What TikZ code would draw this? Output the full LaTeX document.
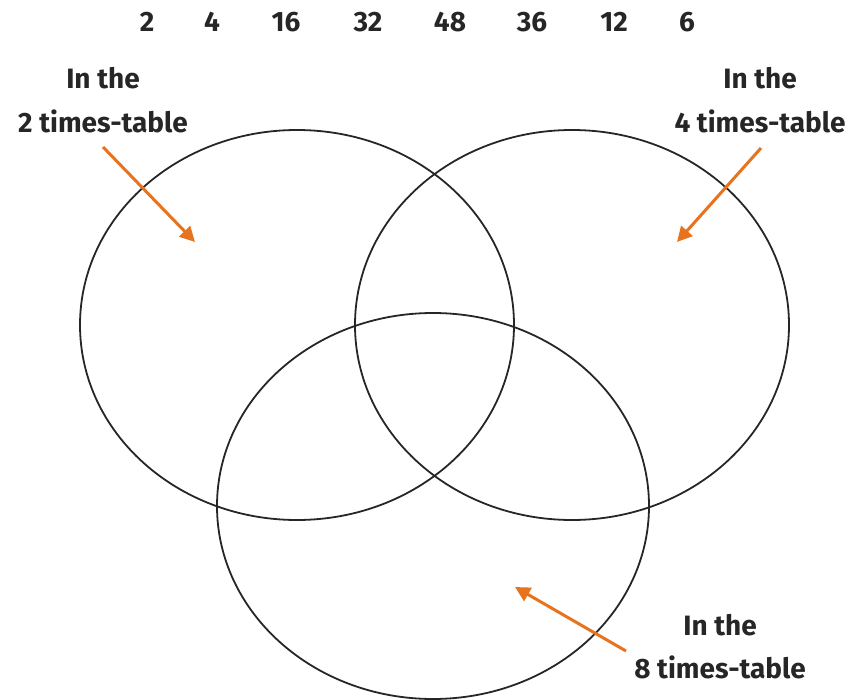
\documentclass[tikz,border=0pt]{standalone}
\usepackage{fontspec}
\setmainfont{Fira Sans}
\usetikzlibrary{arrows.meta}
\definecolor{pointer}{HTML}{E8731E}
\tikzset{
  set/.style={draw=black!85,line width=1.8pt},
  label/.style={font=\fontsize{28}{32}\selectfont\bfseries,text=black!85,inner sep=0pt},
  pointer/.style={draw=pointer,line width=3pt,-{Triangle[length=15pt,width=15pt]}}
}
\begin{document}
\begin{tikzpicture}[x=1pt,y=-1pt]
\useasboundingbox (0,0) rectangle (850,700);

% the three sets
\draw[set] (297,325) ellipse [x radius=217,y radius=195];
\draw[set] (572,325) ellipse [x radius=217,y radius=195];
\draw[set] (433,506) ellipse [x radius=216,y radius=193];

% numbers to sort
\foreach \n/\x in {2/147,4/212,16/286,32/368,48/450,36/532,12/614,6/687}
  \node[label] (n\n) at (\x,22) {\n};

% labels
\node[label] (two1) at (103,78) {In the};
\node[label] (two2) at (103,121) {2 times-table};
\node[label] (four1) at (760,78) {In the};
\node[label] (four2) at (760,121) {4 times-table};
\node[label] (eight1) at (720,625) {In the};
\node[label] (eight2) at (720,667) {8 times-table};

% pointers
\coordinate (a1) at (103,147);
\coordinate (a2) at (195,242);
\coordinate (b1) at (761,148);
\coordinate (b2) at (677,242);
\coordinate (c1) at (626,651);
\coordinate (c2) at (515,587);

\draw[pointer] (a1) -- (a2);
\draw[pointer] (b1) -- (b2);
\draw[pointer] (c1) -- (c2);

\end{tikzpicture}
\end{document}
